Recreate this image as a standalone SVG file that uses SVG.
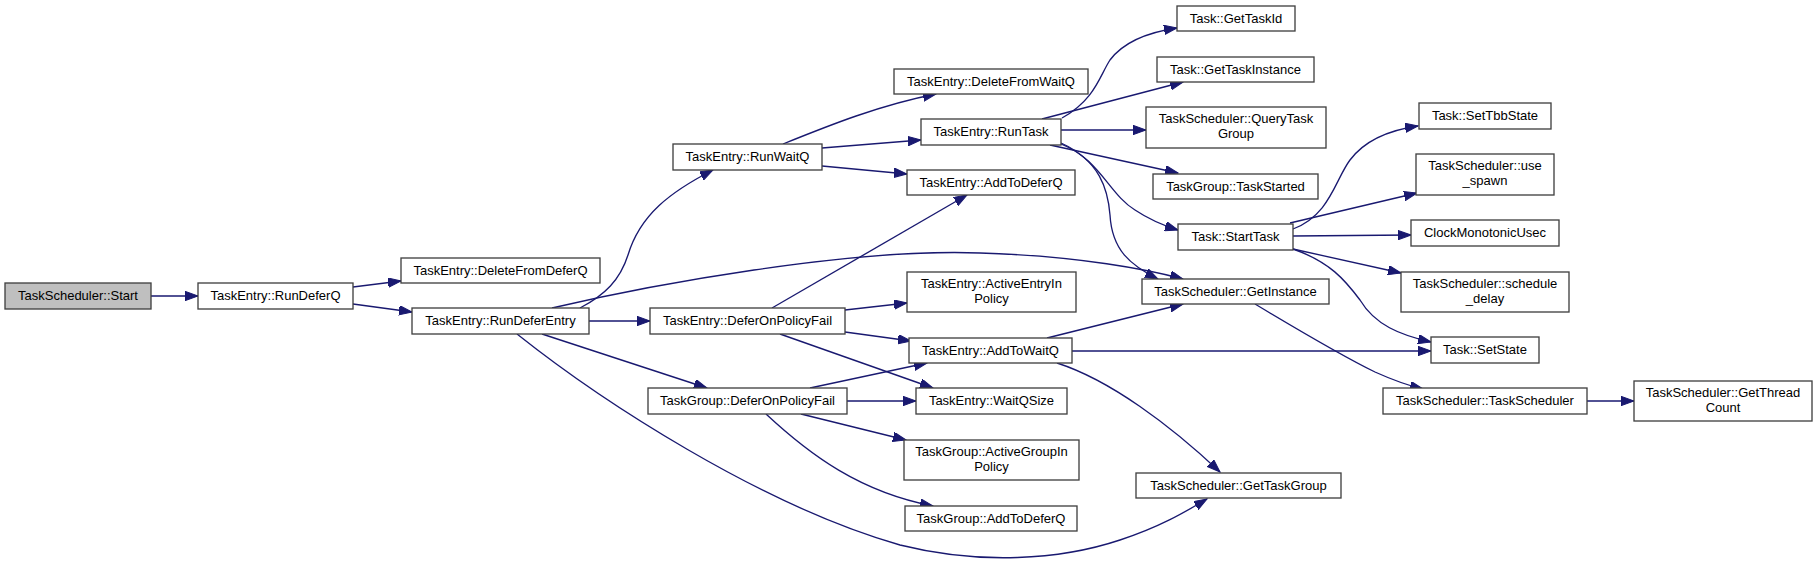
<svg xmlns="http://www.w3.org/2000/svg" width="1817" height="563" viewBox="0 0 1817 563">
<defs>
<style>
.node rect{fill:#ffffff;stroke:#404040;stroke-width:1.33}
.node.root rect{fill:#bfbfbf}
.node text{font-family:"Liberation Sans",Helvetica,Arial,sans-serif;font-size:13px;text-anchor:middle;fill:#000}
.edges path{fill:none;stroke:#191970;stroke-width:1.33;marker-end:url(#arr)}
</style>
<marker id="arr" markerUnits="userSpaceOnUse" markerWidth="14" markerHeight="10" refX="13" refY="4.7" orient="auto">
<path d="M0,0 L13,4.7 L0,9.4 Z" fill="#191970" stroke="#191970" stroke-width="1"/>
</marker>
</defs>
<rect width="1817" height="563" fill="#ffffff"/>
<g id="edges" class="edges">
<path d="M151,296 L198,296"/>
<path d="M353,287 L401,281"/>
<path d="M353,304 L412,312"/>
<path d="M580,308 C605,295 620,280 628,255 C640,215 670,192 713,170"/>
<path d="M552,308 C650,285 850,248 980,253 C1080,256 1150,270 1183,279"/>
<path d="M589,321 L650,321"/>
<path d="M542,334 L707,388"/>
<path d="M517,334 C600,400 760,505 900,545 C980,565 1060,560 1120,540 C1160,527 1185,512 1207,499"/>
<path d="M783,144 C830,125 880,105 936,94"/>
<path d="M822,148 L921,140"/>
<path d="M822,166 L907,174"/>
<path d="M1062,118 C1095,100 1100,75 1110,60 C1125,40 1150,32 1177,28"/>
<path d="M1042,119 L1183,82"/>
<path d="M1061,130 L1146,130"/>
<path d="M1050,145 L1178,173"/>
<path d="M1061,143 C1100,160 1110,195 1135,210 C1150,220 1165,226 1178,230"/>
<path d="M1061,144 C1100,160 1108,190 1110,215 C1112,250 1130,265 1158,279"/>
<path d="M772,308 L967,195"/>
<path d="M845,310 L907,303"/>
<path d="M845,332 L911,341"/>
<path d="M780,334 L933,388"/>
<path d="M810,388 L927,363"/>
<path d="M847,401 L916,401"/>
<path d="M801,414 L906,440"/>
<path d="M766,414 C810,455 860,492 933,506"/>
<path d="M1047,338 L1183,304"/>
<path d="M1072,351 L1431,351"/>
<path d="M1057,363 C1110,380 1170,425 1220,472"/>
<path d="M1293,229 C1330,215 1335,180 1350,160 C1365,140 1390,130 1418,126"/>
<path d="M1290,223 L1417,193"/>
<path d="M1293,236 L1411,235"/>
<path d="M1293,249 L1401,273"/>
<path d="M1293,249 C1330,262 1345,280 1360,300 C1375,325 1400,335 1431,342"/>
<path d="M1255,304 C1290,325 1340,355 1375,372 C1395,381 1410,386 1423,389"/>
<path d="M1587,401 L1634,401"/>
</g>
<g id="n_start" class="node root"><rect x="5" y="283" width="146" height="26"/><text x="78" y="300">TaskScheduler::Start</text></g>
<g id="n_rundeferq" class="node"><rect x="198" y="283" width="155" height="26"/><text x="275.5" y="300">TaskEntry::RunDeferQ</text></g>
<g id="n_deletefromdeferq" class="node"><rect x="401" y="258" width="199" height="25"/><text x="500.5" y="275">TaskEntry::DeleteFromDeferQ</text></g>
<g id="n_rundeferentry" class="node"><rect x="412" y="308" width="177" height="26"/><text x="500.5" y="325">TaskEntry::RunDeferEntry</text></g>
<g id="n_runwaitq" class="node"><rect x="673" y="144" width="149" height="26"/><text x="747.5" y="161">TaskEntry::RunWaitQ</text></g>
<g id="n_te_deferonpolicyfail" class="node"><rect x="650" y="308" width="195" height="26"/><text x="747.5" y="325">TaskEntry::DeferOnPolicyFail</text></g>
<g id="n_tg_deferonpolicyfail" class="node"><rect x="648" y="388" width="199" height="26"/><text x="747.5" y="405">TaskGroup::DeferOnPolicyFail</text></g>
<g id="n_deletefromwaitq" class="node"><rect x="894" y="69" width="194" height="25"/><text x="991" y="86">TaskEntry::DeleteFromWaitQ</text></g>
<g id="n_runtask" class="node"><rect x="921" y="119" width="140" height="26"/><text x="991" y="136">TaskEntry::RunTask</text></g>
<g id="n_te_addtodeferq" class="node"><rect x="907" y="170" width="168" height="25"/><text x="991" y="187">TaskEntry::AddToDeferQ</text></g>
<g id="n_activeentryinpolicy" class="node"><rect x="907" y="272" width="169" height="40"/><text x="991.5" y="288">TaskEntry::ActiveEntryIn</text><text x="991.5" y="303">Policy</text></g>
<g id="n_addtowaitq" class="node"><rect x="909" y="338" width="163" height="25"/><text x="990.5" y="355">TaskEntry::AddToWaitQ</text></g>
<g id="n_waitqsize" class="node"><rect x="916" y="388" width="151" height="26"/><text x="991.5" y="405">TaskEntry::WaitQSize</text></g>
<g id="n_activegroupinpolicy" class="node"><rect x="904" y="440" width="175" height="40"/><text x="991.5" y="456">TaskGroup::ActiveGroupIn</text><text x="991.5" y="471">Policy</text></g>
<g id="n_tg_addtodeferq" class="node"><rect x="905" y="506" width="172" height="25"/><text x="991" y="523">TaskGroup::AddToDeferQ</text></g>
<g id="n_gettaskid" class="node"><rect x="1177" y="6" width="118" height="25"/><text x="1236" y="23">Task::GetTaskId</text></g>
<g id="n_gettaskinstance" class="node"><rect x="1157" y="57" width="157" height="25"/><text x="1235.5" y="74">Task::GetTaskInstance</text></g>
<g id="n_querytaskgroup" class="node"><rect x="1146" y="107" width="180" height="41"/><text x="1236" y="123">TaskScheduler::QueryTask</text><text x="1236" y="138">Group</text></g>
<g id="n_taskstarted" class="node"><rect x="1153" y="174" width="165" height="25"/><text x="1235.5" y="191">TaskGroup::TaskStarted</text></g>
<g id="n_starttask" class="node"><rect x="1178" y="224" width="115" height="26"/><text x="1235.5" y="241">Task::StartTask</text></g>
<g id="n_getinstance" class="node"><rect x="1142" y="279" width="187" height="25"/><text x="1235.5" y="296">TaskScheduler::GetInstance</text></g>
<g id="n_gettaskgroup" class="node"><rect x="1136" y="473" width="205" height="25"/><text x="1238.5" y="490">TaskScheduler::GetTaskGroup</text></g>
<g id="n_settbbstate" class="node"><rect x="1419" y="103" width="132" height="26"/><text x="1485" y="120">Task::SetTbbState</text></g>
<g id="n_use_spawn" class="node"><rect x="1416" y="154" width="138" height="41"/><text x="1485" y="170">TaskScheduler::use</text><text x="1485" y="185">_spawn</text></g>
<g id="n_clockmonotonicusec" class="node"><rect x="1411" y="220" width="148" height="26"/><text x="1485" y="237">ClockMonotonicUsec</text></g>
<g id="n_schedule_delay" class="node"><rect x="1401" y="272" width="168" height="40"/><text x="1485" y="288">TaskScheduler::schedule</text><text x="1485" y="303">_delay</text></g>
<g id="n_setstate" class="node"><rect x="1431" y="337" width="108" height="26"/><text x="1485" y="354">Task::SetState</text></g>
<g id="n_taskscheduler" class="node"><rect x="1383" y="388" width="204" height="26"/><text x="1485" y="405">TaskScheduler::TaskScheduler</text></g>
<g id="n_getthreadcount" class="node"><rect x="1634" y="381" width="178" height="40"/><text x="1723" y="397">TaskScheduler::GetThread</text><text x="1723" y="412">Count</text></g>
</svg>
